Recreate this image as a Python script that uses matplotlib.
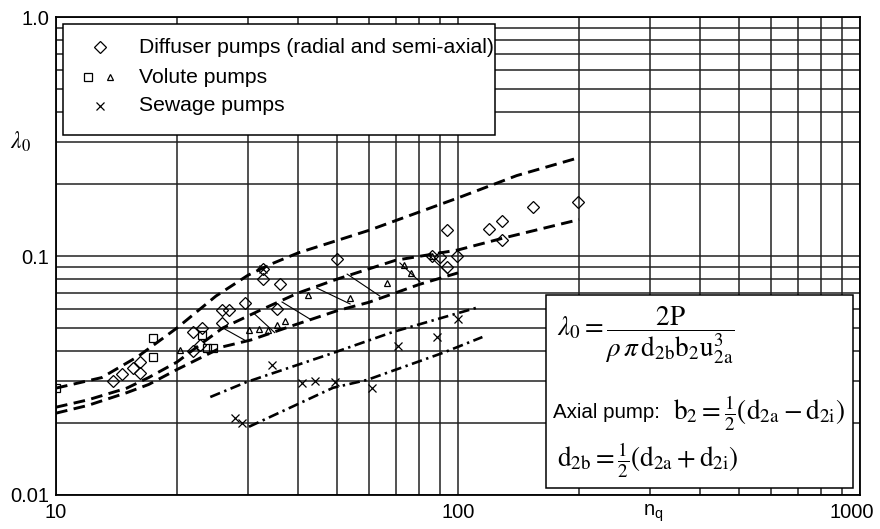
import numpy as np
import matplotlib
matplotlib.use("Agg")
import matplotlib.pyplot as plt
from matplotlib.patches import Rectangle
from matplotlib.transforms import ScaledTranslation

plt.rcParams['font.family'] = ['Liberation Sans', 'DejaVu Sans']
plt.rcParams['mathtext.fontset'] = 'custom'
plt.rcParams['mathtext.rm'] = 'Liberation Sans'
plt.rcParams['mathtext.it'] = 'Liberation Sans:italic'

# --- data ---
# dashed band, diffuser pumps (upper and lower limit)
diff_up_x = [10, 13, 16, 20, 25, 30, 34, 40, 60, 100, 140, 200]
diff_up_y = [0.028, 0.031, 0.038, 0.050, 0.068, 0.083, 0.092, 0.103, 0.128, 0.175, 0.217, 0.258]
diff_lo_x = [10, 12, 15, 17, 20, 23, 26, 32, 40, 50, 70, 100, 130, 200]
diff_lo_y = [0.0233, 0.025, 0.028, 0.031, 0.036, 0.043, 0.050, 0.059, 0.070, 0.080, 0.096, 0.106, 0.119, 0.142]
# lower limit of the volute band
vol_lo_x = [10, 12, 15, 17, 20, 26, 30.5, 39, 50, 60, 80, 100]
vol_lo_y = [0.022, 0.0237, 0.0268, 0.029, 0.0335, 0.0417, 0.0445, 0.0513, 0.059, 0.064, 0.076, 0.085]
# hatch strokes between the two volute limits
hatch_x0 = [26, 31, 36.5, 44.5, 53, 71.7, 85]
hatch_y0 = [0.050, 0.0577, 0.0642, 0.0735, 0.084, 0.0935, 0.100]
hatch_x1 = [29.8, 35, 42.8, 53.9, 63.9, 80.4, 95.3]
hatch_y1 = [0.0440, 0.0478, 0.0545, 0.0630, 0.068, 0.0780, 0.083]
# dash-dot band, sewage pumps
sew_up_x = [24.2, 29.8, 48.9, 68.9, 113]
sew_up_y = [0.0257, 0.0297, 0.0393, 0.0481, 0.0612]
sew_lo_x = [30.2, 48.9, 59.4, 91.6, 115]
sew_lo_y = [0.0193, 0.0281, 0.0303, 0.0393, 0.0458]

# measured points
diffuser_x = [13.9, 14.6, 15.5, 16.2, 16.2, 21.9, 23.1, 22.8, 21.9, 25.9, 25.9, 27.0, 29.5,
              32.8, 32.8, 36.1, 35.4, 50, 86, 90, 93.8, 99.2, 93.8, 119.6, 129, 129, 153.8, 198.6]
diffuser_y = [0.030, 0.032, 0.034, 0.036, 0.0325, 0.048, 0.050, 0.0424, 0.040, 0.0525, 0.0594,
              0.0594, 0.0636, 0.080, 0.088, 0.0764, 0.060, 0.097, 0.100, 0.099, 0.090, 0.100,
              0.128, 0.130, 0.140, 0.117, 0.160, 0.168]
volute_sq_x = [10, 17.4, 17.4, 23.1, 23.7, 24.6]
volute_sq_y = [0.028, 0.0454, 0.0378, 0.0467, 0.0412, 0.0412]
volute_tri_x = [20.4, 30.2, 32.0, 33.6, 35.4, 37.1, 42.3, 53.9, 66.6, 73.6, 76.3, 86]
volute_tri_y = [0.0404, 0.049, 0.0494, 0.049, 0.0514, 0.0535, 0.0687, 0.0667, 0.077, 0.092, 0.085, 0.100]
sewage_x = [27.9, 29.0, 34.4, 40.9, 44.1, 49.4, 61, 71, 88.6, 100, 32.8]
sewage_y = [0.021, 0.020, 0.035, 0.0294, 0.030, 0.0297, 0.028, 0.042, 0.0458, 0.0545, 0.088]

legend_labels = ['Diffuser pumps (radial and semi-axial)', 'Volute pumps', 'Sewage pumps']

# --- figure ---
fig = plt.figure(figsize=(8.8, 5.29), dpi=100)
ax = fig.add_axes([56/880, 34/529, 804/880, 478/529])
ax.set_xscale('log')
ax.set_yscale('log')
ax.set_xlim(10, 1000)
ax.set_ylim(0.01, 1.0)

ax.set_xticks([10, 100, 1000])
ax.set_xticklabels(['10', '100', '1000'])
ax.set_yticks([0.01, 0.1, 1.0])
ax.set_yticklabels(['0.01', '0.1', '1.0'])
ax.xaxis.set_minor_formatter(plt.NullFormatter())
ax.yaxis.set_minor_formatter(plt.NullFormatter())
ax.tick_params(which='both', length=0, labelsize=14.5)
ax.tick_params(axis='x', pad=6)
ax.tick_params(axis='y', pad=5)
ax.grid(True, which='both', color='#222222', lw=1.1)
ax.set_axisbelow(True)
for s in ax.spines.values():
    s.set_linewidth(1.3)
last = ax.get_xticklabels()[-1]
last.set_transform(last.get_transform() + ScaledTranslation(-0.08, 0, fig.dpi_scale_trans))

dash = dict(color='black', lw=2.1, dashes=(4, 2.2), zorder=3)
ax.plot(diff_up_x, diff_up_y, **dash)
ax.plot(diff_lo_x, diff_lo_y, **dash)
ax.plot(vol_lo_x, vol_lo_y, **dash)
for i in range(len(hatch_x0)):
    ax.plot([hatch_x0[i], hatch_x1[i]], [hatch_y0[i], hatch_y1[i]], color='black', lw=0.8, zorder=3)

dashdot = dict(color='black', lw=1.9, dashes=(4, 1.7, 0.9, 1.7), zorder=3)
ax.plot(sew_up_x, sew_up_y, **dashdot)
ax.plot(sew_lo_x, sew_lo_y, **dashdot)

mk = dict(ls='none', mfc='none', mec='black', mew=0.9, zorder=4)
ax.plot(diffuser_x, diffuser_y, marker='D', ms=6.3, **mk)
ax.plot(volute_sq_x, volute_sq_y, marker='s', ms=5.8, **mk)
ax.plot(volute_tri_x, volute_tri_y, marker='^', ms=5, **mk)
ax.plot(sewage_x, sewage_y, marker='x', ms=5.5, **mk)

# legend box
ax.add_patch(Rectangle((0.0087, 0.753), 0.5373, 0.232, transform=ax.transAxes,
                       facecolor='white', edgecolor='black', lw=1.1, zorder=6))
lg = dict(transform=ax.transAxes, ls='none', mfc='none', mec='black', mew=0.9, zorder=7, clip_on=False)
ax.plot([0.0547], [0.937], marker='D', ms=6, **lg)
ax.plot([0.0398], [0.874], marker='s', ms=5.5, **lg)
ax.plot([0.0672], [0.874], marker='^', ms=5, **lg)
ax.plot([0.0547], [0.814], marker='x', ms=5.5, **lg)
for lab, yy in zip(legend_labels, [0.937, 0.874, 0.814]):
    ax.text(0.103, yy, lab, transform=ax.transAxes, fontsize=15.2, va='center', ha='left', zorder=7)

# formula box
ax.add_patch(Rectangle((0.609, 0.0146), 0.382, 0.4034, transform=ax.transAxes,
                       facecolor='white', edgecolor='black', lw=1.1, zorder=6))
ax.text(0.623, 0.335,
        r'$\lambda_0=\dfrac{2\mathrm{P}}{\rho\,\pi\,\mathrm{d}_{2\mathrm{b}}\mathrm{b}_2\mathrm{u}_{2\mathrm{a}}^3}$',
        transform=ax.transAxes, fontsize=19.5, va='center', ha='left', math_fontfamily='stix', zorder=7)
ax.text(0.618, 0.172, 'Axial pump:', transform=ax.transAxes, fontsize=14.8,
        va='center', ha='left', zorder=7)
ax.text(0.768, 0.172,
        r'$\mathrm{b}_2=\frac{1}{2}\left(\mathrm{d}_{2\mathrm{a}}-\mathrm{d}_{2\mathrm{i}}\right)$',
        transform=ax.transAxes, fontsize=19.5, va='center', ha='left', math_fontfamily='stix', zorder=7)
ax.text(0.623, 0.073,
        r'$\mathrm{d}_{2\mathrm{b}}=\frac{1}{2}\left(\mathrm{d}_{2\mathrm{a}}+\mathrm{d}_{2\mathrm{i}}\right)$',
        transform=ax.transAxes, fontsize=19.5, va='center', ha='left', math_fontfamily='stix', zorder=7)

fig.text(20/880, 1 - 142/529, r'$\lambda_0$', fontsize=17, ha='center', va='center', math_fontfamily='stix')
fig.text(653/880, 1 - 513/529, r'$\mathrm{n}_\mathrm{q}$', fontsize=14.5, ha='center', va='center')

fig.savefig('out.png', dpi=100)
